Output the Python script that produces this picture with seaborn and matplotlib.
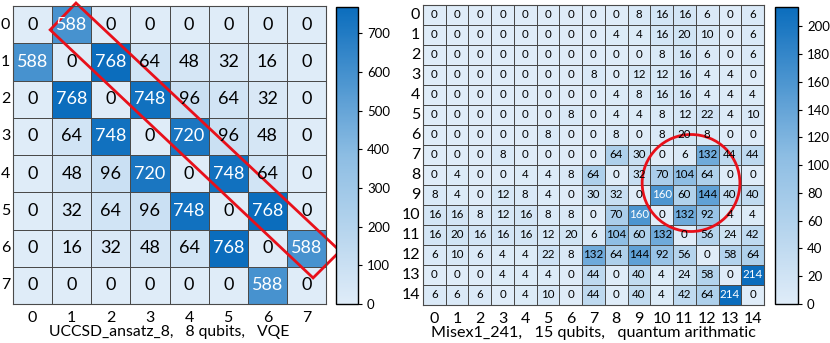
import numpy as np
import pandas as pd
import matplotlib
matplotlib.use("Agg")
import matplotlib.pyplot as plt
import seaborn as sns
from matplotlib.colors import LinearSegmentedColormap
from matplotlib.patches import Polygon, Ellipse

# ---- data ----
vqe_labels = list(range(8))
vqe_counts = [
    [0, 588, 0, 0, 0, 0, 0, 0],
    [588, 0, 768, 64, 48, 32, 16, 0],
    [0, 768, 0, 748, 96, 64, 32, 0],
    [0, 64, 748, 0, 720, 96, 48, 0],
    [0, 48, 96, 720, 0, 748, 64, 0],
    [0, 32, 64, 96, 748, 0, 768, 0],
    [0, 16, 32, 48, 64, 768, 0, 588],
    [0, 0, 0, 0, 0, 0, 588, 0],
]
vqe_title = "UCCSD_ansatz_8,   8 qubits,   VQE"

arith_labels = list(range(15))
arith_counts = [
    [0, 0, 0, 0, 0, 0, 0, 0, 0, 8, 16, 16, 6, 0, 6],
    [0, 0, 0, 0, 0, 0, 0, 0, 4, 4, 16, 20, 10, 0, 6],
    [0, 0, 0, 0, 0, 0, 0, 0, 0, 0, 8, 16, 6, 0, 6],
    [0, 0, 0, 0, 0, 0, 0, 8, 0, 12, 12, 16, 4, 4, 0],
    [0, 0, 0, 0, 0, 0, 0, 0, 4, 8, 16, 16, 4, 4, 4],
    [0, 0, 0, 0, 0, 0, 8, 0, 4, 4, 8, 12, 22, 4, 10],
    [0, 0, 0, 0, 0, 8, 0, 0, 8, 0, 8, 20, 8, 0, 0],
    [0, 0, 0, 8, 0, 0, 0, 0, 64, 30, 0, 6, 132, 44, 44],
    [0, 4, 0, 0, 4, 4, 8, 64, 0, 32, 70, 104, 64, 0, 0],
    [8, 4, 0, 12, 8, 4, 0, 30, 32, 0, 160, 60, 144, 40, 40],
    [16, 16, 8, 12, 16, 8, 8, 0, 70, 160, 0, 132, 92, 4, 4],
    [16, 20, 16, 16, 16, 12, 20, 6, 104, 60, 132, 0, 56, 24, 42],
    [6, 10, 6, 4, 4, 22, 8, 132, 64, 144, 92, 56, 0, 58, 64],
    [0, 0, 0, 4, 4, 4, 0, 44, 0, 40, 4, 24, 58, 0, 214],
    [6, 6, 6, 0, 4, 10, 0, 44, 0, 40, 4, 42, 64, 214, 0],
]
arith_title = "Misex1_241,   15 qubits,   quantum arithmatic"

# red highlight outlines (data coords)
diag_box = [(1.61, -0.08), (0.95, 0.64), (7.67, 7.30), (8.36, 6.58)]
circle_center = (11.79, 8.9)
circle_size = (4.3, 4.85)

plt.rcParams["font.family"] = ["Lato", "DejaVu Sans"]

cmap = LinearSegmentedColormap.from_list("qb", ["#dfecf8", "#8dbde3", "#0b6dbd"])

fig = plt.figure(figsize=(8.3, 3.43), dpi=100)
W, H = 830, 343


def px_axes(x0, y0, x1, y1):
    return fig.add_axes([x0 / W, 1 - y1 / H, (x1 - x0) / W, (y1 - y0) / H])


def draw(ax, cax, counts, labels, vmax, ticks, annot_size, title, title_size):
    df = pd.DataFrame(counts, index=labels, columns=labels)
    sns.heatmap(df, ax=ax, cbar_ax=cax, cmap=cmap, vmin=0, vmax=vmax,
                annot=False, linewidths=0.7, linecolor="#4a4a4a")
    arr = np.array(counts)
    for i in range(arr.shape[0]):
        for j in range(arr.shape[1]):
            v = arr[i, j]
            ax.text(j + 0.5, i + 0.5, str(v), ha="center", va="center",
                    fontsize=annot_size,
                    color="white" if v > 0.7 * arr.max() else "black")
    ax.tick_params(length=0, labelsize=11.5, pad=2)
    ax.set_yticklabels(labels, rotation=0)
    ax.set_xticklabels(labels, rotation=0)
    ax.tick_params(axis="x", pad=5)
    ax.set_xlabel(title, fontsize=title_size, labelpad=0)
    ax.set_ylabel("")
    for s in ax.spines.values():
        s.set_visible(True)
        s.set_color("#4a4a4a")
    cax.set_yticks(ticks)
    cax.tick_params(labelsize=9.5, length=3)
    cb = ax.collections[0].colorbar
    cb.outline.set_edgecolor("black")
    cb.outline.set_linewidth(1.0)


ax1 = px_axes(13, 6, 326, 304)
cax1 = px_axes(336, 7, 358, 304)
draw(ax1, cax1, vqe_counts, vqe_labels, 768, range(0, 701, 100), 13, vqe_title, 11.3)
ax1.add_patch(Polygon(diag_box, closed=True, fill=False, edgecolor="#e8101a",
                      linewidth=2, clip_on=False))

ax2 = px_axes(423, 5, 764, 305)
cax2 = px_axes(775, 7, 798, 304)
draw(ax2, cax2, arith_counts, arith_labels, 214, range(0, 201, 20), 8.3, arith_title, 11.6)
ax2.add_patch(Ellipse(circle_center, circle_size[0], circle_size[1], fill=False,
                      edgecolor="#e8101a", linewidth=2, clip_on=False))

fig.savefig("out.png", dpi=100)
